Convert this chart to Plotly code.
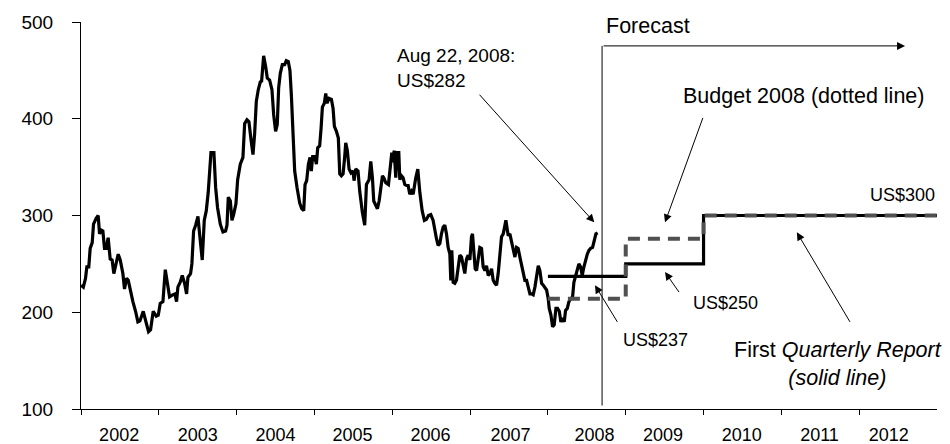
import plotly.graph_objects as go

# ---- data ----
hist_year = [
2002.002,2002.030,2002.058,2002.075,2002.100,2002.118,2002.144,2002.161,2002.195,2002.221,
2002.238,2002.259,2002.281,2002.302,2002.324,2002.349,2002.375,2002.400,2002.422,2002.452,
2002.478,2002.504,2002.538,2002.559,2002.585,2002.607,2002.637,2002.667,2002.701,2002.731,
2002.757,2002.800,2002.838,2002.868,2002.894,2002.928,2002.967,2002.993,2003.018,2003.053,
2003.083,2003.113,2003.138,2003.177,2003.207,2003.228,2003.245,2003.275,2003.301,2003.331,
2003.357,2003.374,2003.408,2003.425,2003.447,2003.473,2003.503,2003.524,2003.558,2003.584,
2003.610,2003.635,2003.657,2003.670,2003.708,2003.730,2003.755,2003.790,2003.824,2003.858,
2003.876,2003.893,2003.919,2003.940,2003.961,2003.991,2004.013,2004.047,2004.081,2004.103,
2004.133,2004.158,2004.184,2004.210,2004.231,2004.253,2004.278,2004.304,2004.321,2004.347,
2004.373,2004.394,2004.424,2004.454,2004.476,2004.501,2004.522,2004.540,2004.561,2004.587,
2004.617,2004.638,2004.664,2004.685,2004.703,2004.724,2004.746,2004.776,2004.810,2004.836,
2004.862,2004.879,2004.900,2004.922,2004.943,2004.960,2004.977,2005.003,2005.025,2005.042,
2005.067,2005.085,2005.102,2005.127,2005.145,2005.162,2005.187,2005.218,2005.239,2005.256,
2005.282,2005.307,2005.325,2005.346,2005.368,2005.389,2005.402,2005.423,2005.445,2005.470,
2005.496,2005.509,2005.530,2005.560,2005.582,2005.616,2005.646,2005.668,2005.702,2005.724,
2005.745,2005.762,2005.788,2005.809,2005.831,2005.852,2005.874,2005.891,2005.916,2005.951,
2005.968,2005.994,2006.011,2006.024,2006.045,2006.062,2006.084,2006.097,2006.118,2006.139,
2006.161,2006.182,2006.204,2006.225,2006.247,2006.268,2006.302,2006.328,2006.354,2006.384,
2006.413,2006.439,2006.465,2006.495,2006.525,2006.547,2006.568,2006.589,2006.611,2006.632,
2006.654,2006.675,2006.697,2006.718,2006.740,2006.752,2006.765,2006.782,2006.804,2006.825,
2006.847,2006.868,2006.890,2006.911,2006.932,2006.954,2006.975,2006.997,2007.018,2007.031,
2007.048,2007.065,2007.083,2007.104,2007.125,2007.147,2007.168,2007.190,2007.211,2007.233,
2007.254,2007.276,2007.297,2007.318,2007.340,2007.361,2007.383,2007.404,2007.426,2007.447,
2007.460,2007.477,2007.490,2007.511,2007.533,2007.554,2007.576,2007.597,2007.618,2007.640,
2007.661,2007.683,2007.704,2007.726,2007.747,2007.769,2007.790,2007.811,2007.833,2007.854,
2007.876,2007.897,2007.919,2007.940,2007.961,2007.983,2008.004,2008.017,2008.039,2008.060,
2008.081,2008.103,2008.124,2008.146,2008.167,2008.189,2008.210,2008.227,2008.249,2008.270,
2008.296,2008.317,2008.334,2008.360,2008.381,2008.398,2008.420,2008.441,2008.463,2008.484,
2008.506,2008.527,2008.549,2008.574,2008.596,2008.617,2008.639]
hist_value = [
228,226,235,247,247,266,272,291,297,300,
281,285,284,266,266,277,255,254,240,250,
260,254,240,224,235,233,221,211,201,190,
191,201,189,180,182,201,196,197,209,211,
244,230,216,218,219,211,226,231,238,230,
219,236,240,250,284,290,299,281,254,295,
305,324,353,365,365,329,308,291,283,284,
290,319,315,295,301,312,337,353,360,395,
399,397,379,363,384,418,430,438,439,465,
454,442,440,430,404,387,394,432,447,456,
456,460,459,450,425,377,346,329,313,307,
305,332,336,353,360,346,361,361,353,370,
372,390,412,416,426,416,421,420,411,392,
387,380,343,341,343,361,375,367,348,344,
346,336,348,346,325,303,290,332,337,356,
339,315,310,307,315,329,341,339,334,332,
349,365,355,367,339,365,365,337,341,339,
332,331,331,322,325,322,339,348,324,305,
295,296,300,301,295,284,276,269,271,281,
288,290,281,267,260,233,264,231,230,233,
245,259,257,250,240,255,259,254,278,281,
260,245,243,254,267,266,247,243,248,238,
240,245,233,230,228,240,264,278,281,288,
295,286,279,281,274,264,257,267,266,257,
250,243,233,233,226,219,219,218,226,240,
248,243,230,228,226,223,214,204,197,185,
187,204,204,201,190,194,190,202,204,211,
214,216,231,238,243,250,247,238,247,254,
260,264,266,267,274,281,282]

forecast_year = [2008, 2009, 2010, 2011, 2012, 2013]
first_qr = [237, 250, 300, 300, 300, 300]      # First Quarterly Report (solid)
budget_2008 = [214, 276, 300, 300, 300, 300]   # Budget 2008 (dotted)

year_labels = ["2002", "2003", "2004", "2005", "2006", "2007",
               "2008", "2009", "2010", "2011", "2012"]
year_label_pos = [2002.49, 2003.50, 2004.50, 2005.49, 2006.49, 2007.52,
                  2008.60, 2009.48, 2010.49, 2011.49, 2012.38]
year_bounds = list(range(2002, 2013))
y_ticks = [100, 200, 300, 400, 500]

FONT = "Liberation Sans, Arial, sans-serif"

fig = go.Figure()
fig.add_trace(go.Scatter(x=hist_year, y=hist_value, mode="lines",
                         line=dict(color="black", width=3.2), hoverinfo="skip"))
fig.add_trace(go.Scatter(x=forecast_year, y=first_qr, mode="lines",
                         line=dict(color="black", width=3.2, shape="hv"), hoverinfo="skip"))
fig.add_trace(go.Scatter(x=forecast_year, y=budget_2008, mode="lines",
                         line=dict(color="#505050", width=4, shape="hv", dash="12px,8px"),
                         hoverinfo="skip"))

# forecast divider
fig.add_shape(type="line", x0=2008.696, x1=2008.696, y0=103.6, y1=475.3,
              line=dict(color="black", width=1))

def arrow(x, y, ax, ay):
    fig.add_annotation(x=x, y=y, ax=ax, ay=ay, xref="x", yref="y", axref="x", ayref="y",
                       text="", showarrow=True, arrowhead=2, arrowsize=1.6,
                       arrowwidth=1, arrowcolor="black", standoff=0, startstandoff=0)

def label(x, y, text, size, xanchor="left", align="left"):
    fig.add_annotation(x=x, y=y, xref="x", yref="y", text=text, showarrow=False,
                       xanchor=xanchor, yanchor="middle", align=align,
                       font=dict(family=FONT, size=size, color="black"))

arrow(2012.59, 475.3, 2008.696, 475.3)
label(2008.715, 495.4, "Forecast", 21.5)
label(2006.041, 452.7, "Aug 22, 2008:<br>US$282", 19)
arrow(2008.596, 292.9, 2007.104, 426.4)
label(2009.71, 423.5, "Budget 2008 (dotted line)", 21.5)
arrow(2009.505, 292.9, 2009.998, 402.4)
label(2013.0, 321.3, "US$300", 18, xanchor="right")
label(2009.835, 209.9, "US$250", 18)
arrow(2009.505, 241.5, 2009.698, 219.3)
label(2008.935, 171.4, "US$237", 18)
arrow(2008.605, 227.9, 2008.904, 188.5)
label(2011.734, 147.0, "First <i>Quarterly Report</i><br><i>(solid line)</i>", 21.5,
      xanchor="center", align="center")
arrow(2011.199, 282.6, 2011.893, 188.5)

fig.update_layout(
    width=950, height=460,
    margin=dict(l=81, r=13, t=20, b=50.5),
    paper_bgcolor="white", plot_bgcolor="white",
    showlegend=False,
    font=dict(family=FONT, color="black"),
    xaxis=dict(range=[2002, 2013], showgrid=False, zeroline=False,
               showline=True, linecolor="black", linewidth=1,
               tickmode="array", tickvals=year_label_pos, ticktext=year_labels,
               ticks="", tickfont=dict(size=18, family=FONT), ticklabelstandoff=9,
               minor=dict(tickmode="array", tickvals=year_bounds, ticks="outside",
                          ticklen=5, tickcolor="black", tickwidth=1, showgrid=False)),
    yaxis=dict(range=[100, 500], showgrid=False, zeroline=False,
               showline=True, linecolor="black", linewidth=1,
               tickmode="array", tickvals=y_ticks, ticks="outside", ticklen=8,
               tickcolor="black", tickfont=dict(size=19, family=FONT),
               ticklabelstandoff=15),
)

page_fix = (
    "var h=document.documentElement,b=document.body;"
    "h.style.margin='0';h.style.padding='0';"
    "b.style.margin='0';b.style.padding='0';"
)
fig.write_html("out.html", config={"displayModeBar": False}, post_script=page_fix)
